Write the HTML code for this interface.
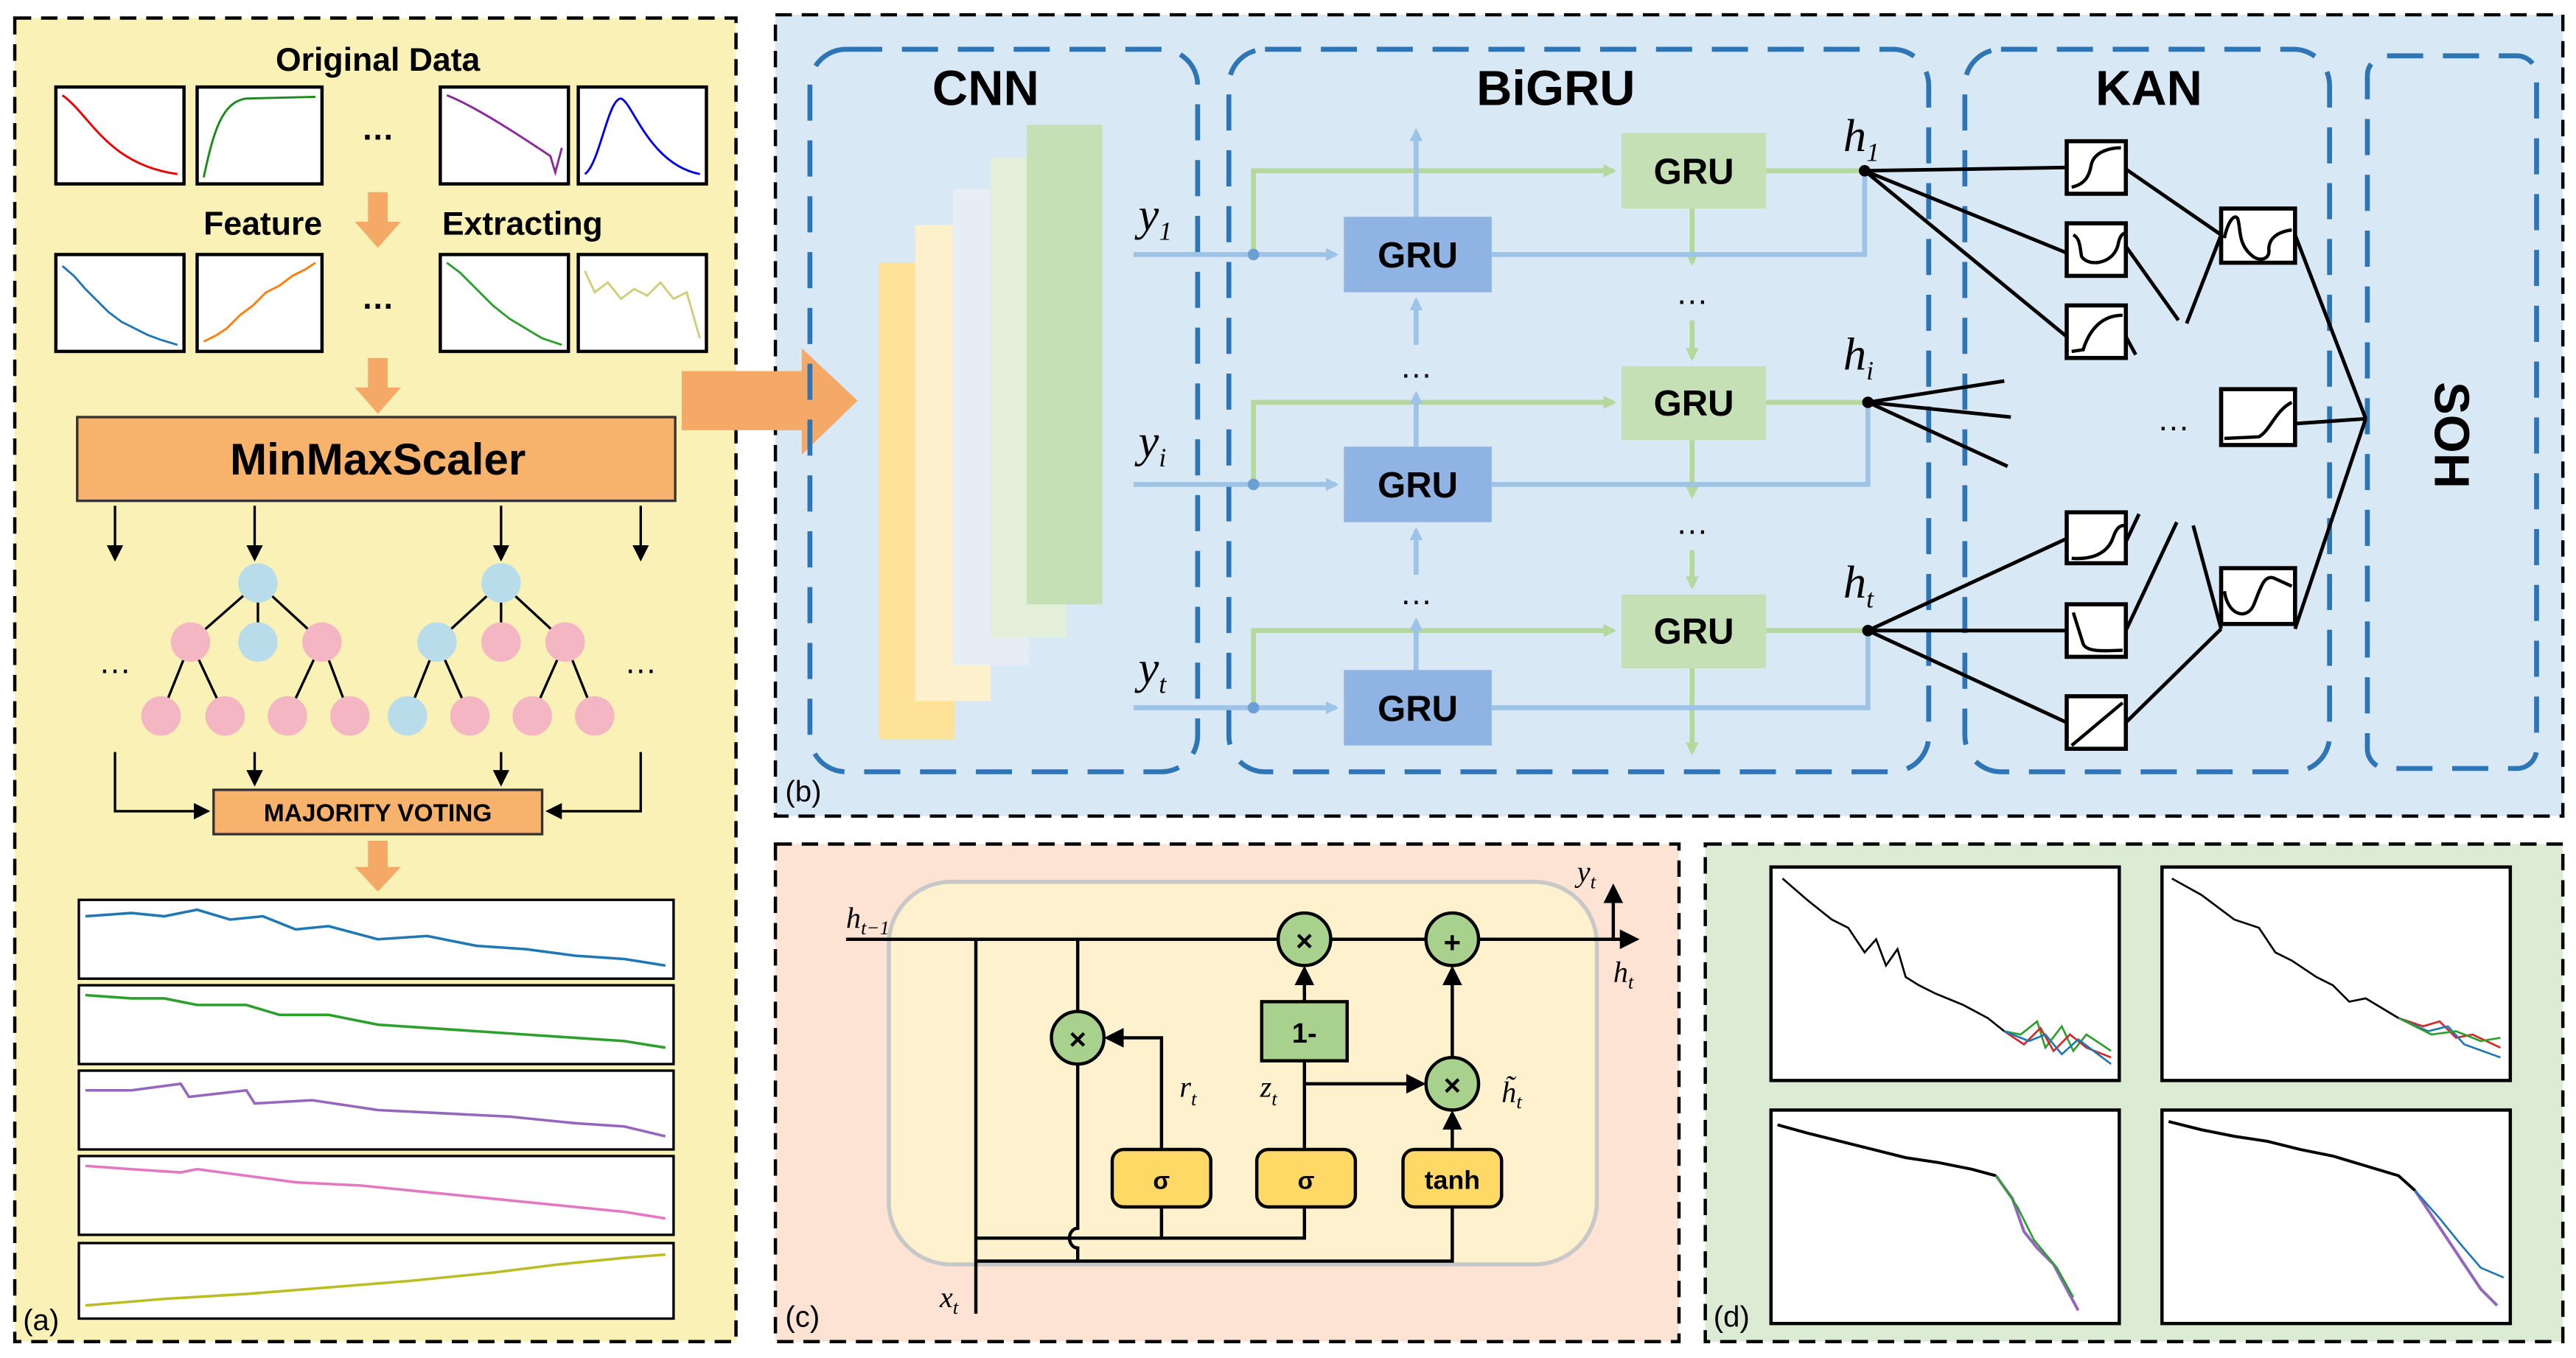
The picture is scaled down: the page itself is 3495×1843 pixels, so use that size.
<!DOCTYPE html>
<html><head><meta charset="utf-8"><style>
html,body{margin:0;padding:0;background:#fff}
svg{display:block}
text{font-family:"Liberation Sans",Arial,sans-serif}
.it{font-family:"Liberation Serif",serif;font-style:italic}
</style></head><body>
<svg width="3495" height="1843" viewBox="0 0 1568 827" preserveAspectRatio="none" xmlns="http://www.w3.org/2000/svg">
<defs>
<marker id="ab" markerWidth="8" markerHeight="8" refX="6" refY="4" orient="auto" markerUnits="userSpaceOnUse"><path d="M0,0 L8,4 L0,8 z" fill="#9dc3e6"/></marker>
<marker id="ag" markerWidth="8" markerHeight="8" refX="6" refY="4" orient="auto" markerUnits="userSpaceOnUse"><path d="M0,0 L8,4 L0,8 z" fill="#b5d99c"/></marker>
<marker id="ak" markerWidth="12" markerHeight="12" refX="10" refY="6" orient="auto" markerUnits="userSpaceOnUse"><path d="M0,0 L12,6 L0,12 z" fill="#000"/></marker>
<marker id="ak2" markerWidth="10" markerHeight="10" refX="8" refY="5" orient="auto" markerUnits="userSpaceOnUse"><path d="M0,0 L10,5 L0,10 z" fill="#000"/></marker>
</defs>
<rect width="1568" height="827" fill="#fff"/>
<!-- panel a -->
<rect x="9" y="11" width="439" height="806" fill="#faf1b6" stroke="#000" stroke-width="2" stroke-dasharray="10,6"/>
<text x="230" y="43" font-size="20" font-weight="bold" text-anchor="middle">Original Data</text>
<g fill="#fff" stroke="#000" stroke-width="2">
<rect x="34" y="53" width="78" height="59"/><rect x="120" y="53" width="76" height="59"/><rect x="268" y="53" width="78" height="59"/><rect x="352" y="53" width="78" height="59"/>
<rect x="34" y="155" width="78" height="59"/><rect x="120" y="155" width="76" height="59"/><rect x="268" y="155" width="78" height="59"/><rect x="352" y="155" width="78" height="59"/>
</g>
<g fill="none" stroke-width="1.3">
<path d="M38,58 C55,70 65,100 108,106" stroke="#e00"/>
<path d="M124,108 C130,80 135,62 150,60 L192,59" stroke="#1a8a1a"/>
<path d="M272,58 C290,65 320,85 335,95 L338,105 L342,90" stroke="#8a2a9a"/>
<path d="M356,106 C365,100 370,60 378,60 C385,62 395,100 426,106" stroke="#00e"/>
<polyline points="38,162 45,168 52,176 58,182 66,190 74,196 82,200 90,204 98,207 108,210" stroke="#1f77b4"/>
<polyline points="124,208 132,204 138,200 146,192 154,186 162,178 170,174 178,168 186,164 192,160" stroke="#ff7f0e"/>
<polyline points="272,160 280,166 290,176 300,186 310,194 320,200 330,206 342,210" stroke="#2ca02c"/>
<polyline points="356,165 362,178 370,172 378,182 386,176 394,180 402,172 410,182 418,178 426,206" stroke="#cfcf77"/>
</g>
<text x="230" y="85" font-size="20" font-weight="bold" text-anchor="middle">…</text>
<text x="230" y="188" font-size="20" font-weight="bold" text-anchor="middle">…</text>
<text x="160" y="143" font-size="20" font-weight="bold" text-anchor="middle">Feature</text>
<text x="318" y="143" font-size="20" font-weight="bold" text-anchor="middle">Extracting</text>
<g fill="#f4a966">
<path d="M224,117 h12 v18 h8 l-14,16 l-14,-16 h8z"/>
<path d="M224,218 h12 v18 h8 l-14,16 l-14,-16 h8z"/>
<path d="M224,512 h12 v16 h8 l-14,15 l-14,-15 h8z"/>
</g>
<rect x="47" y="254" width="364" height="51" fill="#f7b26b" stroke="#333" stroke-width="1.5"/>
<text x="230" y="289" font-size="27" font-weight="bold" text-anchor="middle">MinMaxScaler</text>
<g stroke="#000" stroke-width="1.5">
<line x1="70" y1="308" x2="70" y2="340" marker-end="url(#ak2)"/><line x1="155" y1="308" x2="155" y2="340" marker-end="url(#ak2)"/>
<line x1="305" y1="308" x2="305" y2="340" marker-end="url(#ak2)"/><line x1="390" y1="308" x2="390" y2="340" marker-end="url(#ak2)"/>
<path d="M157,355 L116,391 M157,355 L157,391 M157,355 L196,391 M116,391 L98,436 M116,391 L137,436 M196,391 L175,436 M196,391 L213,436"/>
<path d="M305,355 L266,391 M305,355 L305,391 M305,355 L344,391 M266,391 L248,436 M266,391 L286,436 M344,391 L324,436 M344,391 L362,436"/>
<path d="M70,458 V494 H126" fill="none" marker-end="url(#ak2)"/>
<path d="M390,458 V494 H334" fill="none" marker-end="url(#ak2)"/>
<line x1="155" y1="458" x2="155" y2="477" marker-end="url(#ak2)"/><line x1="305" y1="458" x2="305" y2="477" marker-end="url(#ak2)"/>
</g>
<g stroke="none">
<circle cx="157" cy="355" r="12" fill="#b9dcea"/>
<circle cx="116" cy="391" r="12" fill="#f4b6c2"/><circle cx="157" cy="391" r="12" fill="#b9dcea"/><circle cx="196" cy="391" r="12" fill="#f4b6c2"/>
<circle cx="98" cy="436" r="12" fill="#f4b6c2"/><circle cx="137" cy="436" r="12" fill="#f4b6c2"/><circle cx="175" cy="436" r="12" fill="#f4b6c2"/><circle cx="213" cy="436" r="12" fill="#f4b6c2"/>
<circle cx="305" cy="355" r="12" fill="#b9dcea"/>
<circle cx="266" cy="391" r="12" fill="#b9dcea"/><circle cx="305" cy="391" r="12" fill="#f4b6c2"/><circle cx="344" cy="391" r="12" fill="#f4b6c2"/>
<circle cx="248" cy="436" r="12" fill="#b9dcea"/><circle cx="286" cy="436" r="12" fill="#f4b6c2"/><circle cx="324" cy="436" r="12" fill="#f4b6c2"/><circle cx="362" cy="436" r="12" fill="#f4b6c2"/>
</g>
<text x="70" y="410" font-size="20" text-anchor="middle">…</text><text x="390" y="410" font-size="20" text-anchor="middle">…</text>
<rect x="130" y="481" width="200" height="27" fill="#f7b26b" stroke="#333" stroke-width="1.5"/>
<text x="230" y="500" font-size="15" font-weight="bold" text-anchor="middle">MAJORITY VOTING</text>
<g fill="#fff" stroke="#000" stroke-width="1.5">
<rect x="48" y="548" width="362" height="48"/><rect x="48" y="600" width="362" height="48"/><rect x="48" y="652" width="362" height="48"/><rect x="48" y="704" width="362" height="48"/><rect x="48" y="757" width="362" height="46"/>
</g>
<g fill="none" stroke-width="1.6">
<polyline points="52,558 80,556 100,558 120,554 140,560 160,558 180,566 200,564 230,572 260,570 290,576 320,578 350,582 380,584 405,588" stroke="#1f77b4"/>
<polyline points="52,606 80,608 100,608 120,612 150,612 170,618 200,618 230,624 260,626 290,628 320,630 350,632 380,634 405,638" stroke="#2ca02c"/>
<polyline points="52,664 80,664 110,660 115,668 150,664 155,672 190,670 230,676 270,678 310,680 350,684 380,686 405,692" stroke="#9467bd"/>
<polyline points="52,710 80,712 110,714 120,712 150,716 180,720 220,722 260,726 300,730 340,734 380,738 405,742" stroke="#e377c2"/>
<polyline points="52,795 100,791 150,788 200,784 250,780 300,775 340,770 380,766 405,764" stroke="#bcbd22"/>
</g>
<text x="14" y="810" font-size="18">(a)</text>
<!-- panel b -->
<rect x="472" y="9" width="1088" height="488" fill="#d9e8f5" stroke="#000" stroke-width="2" stroke-dasharray="10,6"/>
<!-- big arrow -->
<path d="M415,226 H488 V212 L522,244 L488,277 V262 H415z" fill="#f4a966"/>
<g fill="none" stroke="#2e75b6" stroke-width="3" stroke-dasharray="22,12">
<rect x="493" y="30" width="236" height="440" rx="22"/>
<rect x="748" y="30" width="426" height="440" rx="22"/>
<rect x="1196" y="30" width="222" height="440" rx="22"/>
<rect x="1441" y="34" width="103" height="434" rx="12"/>
</g>
<text x="600" y="64" font-size="30" font-weight="bold" text-anchor="middle">CNN</text>
<text x="947" y="64" font-size="30" font-weight="bold" text-anchor="middle">BiGRU</text>
<text x="1308" y="64" font-size="30" font-weight="bold" text-anchor="middle">KAN</text>
<text transform="translate(1482,265) rotate(90)" font-size="30" font-weight="bold" text-anchor="middle">SOH</text>
<rect x="535" y="160" width="46" height="290" fill="#fee297"/>
<rect x="557" y="137" width="46" height="290" fill="#fdf0cc"/>
<rect x="580" y="115" width="46" height="290" fill="#e7edf4"/>
<rect x="603" y="96" width="46" height="292" fill="#e3efd8"/>
<rect x="625" y="76" width="46" height="292" fill="#c5e0b4"/>
<g fill="none" stroke="#b5d99c" stroke-width="3">
<path d="M763,155 V104 H982" marker-end="url(#ag)"/><path d="M763,295 V245 H982" marker-end="url(#ag)"/><path d="M763,431 V384 H982" marker-end="url(#ag)"/>
<path d="M1075,104 H1135 M1075,245 H1137 M1075,384 H1137"/>
<line x1="1030" y1="127" x2="1030" y2="160" marker-end="url(#ag)"/><line x1="1030" y1="195" x2="1030" y2="218" marker-end="url(#ag)"/>
<line x1="1030" y1="268" x2="1030" y2="302" marker-end="url(#ag)"/><line x1="1030" y1="335" x2="1030" y2="357" marker-end="url(#ag)"/>
<line x1="1030" y1="407" x2="1030" y2="458" marker-end="url(#ag)"/>
</g>
<g fill="none" stroke="#9dc3e6" stroke-width="3">
<line x1="690" y1="155" x2="813" y2="155" marker-end="url(#ab)"/><line x1="690" y1="295" x2="813" y2="295" marker-end="url(#ab)"/><line x1="690" y1="431" x2="813" y2="431" marker-end="url(#ab)"/>
<path d="M908,155 H1135 V104 M908,295 H1137 V245 M908,431 H1137 V384"/>
<line x1="862" y1="132" x2="862" y2="80" marker-end="url(#ab)"/>
<line x1="862" y1="272" x2="862" y2="240" marker-end="url(#ab)"/><line x1="862" y1="210" x2="862" y2="183" marker-end="url(#ab)"/>
<line x1="862" y1="408" x2="862" y2="378" marker-end="url(#ab)"/><line x1="862" y1="350" x2="862" y2="323" marker-end="url(#ab)"/>
</g>
<circle cx="763" cy="155" r="3.5" fill="#6a9fd6"/><circle cx="763" cy="295" r="3.5" fill="#6a9fd6"/><circle cx="763" cy="431" r="3.5" fill="#6a9fd6"/>
<g fill="#8fb4e3"><rect x="818" y="132" width="90" height="46"/><rect x="818" y="272" width="90" height="46"/><rect x="818" y="408" width="90" height="46"/></g>
<g fill="#c5e0b4"><rect x="987" y="81" width="88" height="46"/><rect x="987" y="223" width="88" height="45"/><rect x="987" y="362" width="88" height="45"/></g>
<g font-size="22" font-weight="bold" text-anchor="middle">
<text x="863" y="163">GRU</text><text x="863" y="303">GRU</text><text x="863" y="439">GRU</text>
<text x="1031" y="112">GRU</text><text x="1031" y="253">GRU</text><text x="1031" y="392">GRU</text>
</g>
<g font-size="20" text-anchor="middle"><text x="862" y="230">…</text><text x="862" y="368">…</text><text x="1030" y="185">…</text><text x="1030" y="325">…</text><text x="1323" y="262">…</text></g>
<g class="it" font-size="28"><text x="693" y="140" class="it">y<tspan font-size="16" dy="6">1</tspan></text><text x="693" y="278" class="it">y<tspan font-size="16" dy="6">i</tspan></text><text x="693" y="416" class="it">y<tspan font-size="16" dy="6">t</tspan></text>
<text x="1122" y="92" class="it">h<tspan font-size="16" dy="6">1</tspan></text><text x="1122" y="225" class="it">h<tspan font-size="16" dy="6">i</tspan></text><text x="1122" y="364" class="it">h<tspan font-size="16" dy="6">t</tspan></text></g>
<g stroke="#000" stroke-width="2.2" fill="none">
<path d="M1135,104 L1258,102 M1135,104 L1258,154 M1135,104 L1258,205"/>
<path d="M1137,245 L1220,232 M1137,245 L1224,254 M1137,245 L1222,284"/>
<path d="M1137,384 L1258,328 M1137,384 L1258,384 M1137,384 L1258,440"/>
<path d="M1294,103 L1352,143 M1294,150 L1326,195 M1294,205 L1300,216 M1352,143 L1331,197"/>
<path d="M1294,330 L1302,313 M1294,384 L1325,318 M1294,440 L1352,383 M1352,383 L1335,320"/>
<path d="M1397,143 L1440,255 M1397,258 L1440,255 M1397,383 L1440,255"/>
</g>
<circle cx="1135" cy="104" r="3.5"/><circle cx="1137" cy="245" r="3.5"/><circle cx="1137" cy="384" r="3.5"/>
<g fill="#fff" stroke="#000" stroke-width="2.5">
<rect x="1258" y="86" width="36" height="32"/><rect x="1258" y="136" width="36" height="32"/><rect x="1258" y="186" width="36" height="32"/>
<rect x="1258" y="312" width="36" height="31"/><rect x="1258" y="368" width="36" height="32"/><rect x="1258" y="424" width="36" height="32"/>
<rect x="1352" y="127" width="45" height="33"/><rect x="1352" y="237" width="45" height="34"/><rect x="1352" y="346" width="45" height="34"/>
</g>
<g fill="none" stroke="#000" stroke-width="2">
<path d="M1261,114 C1270,112 1272,106 1273,100 C1275,92 1285,90 1291,90"/>
<path d="M1262,143 C1266,145 1266,150 1267,156 C1270,162 1285,162 1289,150 C1290,145 1291,143 1293,142"/>
<path d="M1261,214 L1268,213 C1272,200 1280,192 1292,192"/>
<path d="M1261,340 C1275,341 1283,336 1286,328 C1288,322 1290,320 1293,320"/>
<path d="M1262,373 L1268,392 C1270,398 1285,396 1292,396"/>
<path d="M1261,454 L1292,428"/>
<path d="M1354,145 C1356,135 1360,130 1362,133 C1364,138 1362,148 1370,155 C1375,160 1382,158 1381,152 C1381,144 1388,141 1395,140"/>
<path d="M1354,267 L1375,266 C1382,262 1385,250 1395,245"/>
<path d="M1354,360 C1356,375 1368,378 1372,368 C1376,358 1378,350 1384,352 L1395,357"/>
</g>
<text x="478" y="488" font-size="18">(b)</text>
<!-- panel c -->
<rect x="472" y="514" width="550" height="303" fill="#fde3d4" stroke="#000" stroke-width="2" stroke-dasharray="10,6"/>
<rect x="541" y="537" width="431" height="233" rx="38" fill="#fef1cd" stroke="#c8c8c8" stroke-width="2.5"/>
<g stroke="#000" stroke-width="2" fill="none">
<line x1="515" y1="572" x2="996" y2="572" marker-end="url(#ak)"/>
<line x1="982" y1="572" x2="982" y2="540" marker-end="url(#ak)"/>
<path d="M594,572 V800"/>
<path d="M656,572 V616 M656,648 V748 A5,6 0 0 0 656,760 V768"/>
<path d="M594,754 H794 V735 M707,754 V735"/>
<path d="M594,768 H884 V735"/>
<path d="M707,700 V632 H674" marker-end="url(#ak)"/>
<path d="M794,700 V646 M794,610 V590" marker-end="url(#ak)"/>
<path d="M794,660 H866" marker-end="url(#ak)"/>
<path d="M884,700 V678" marker-end="url(#ak)"/>
<path d="M884,644 V590" marker-end="url(#ak)"/>
</g>
<g fill="#a9d18e" stroke="#000" stroke-width="2">
<circle cx="656" cy="632" r="16"/><circle cx="794" cy="572" r="16"/><circle cx="884" cy="572" r="16"/><circle cx="884" cy="660" r="16"/>
<rect x="768" y="610" width="52" height="36"/>
</g>
<g fill="#ffd966" stroke="#000" stroke-width="2"><rect x="677" y="700" width="60" height="35" rx="7"/><rect x="765" y="700" width="60" height="35" rx="7"/><rect x="854" y="700" width="60" height="35" rx="7"/></g>
<g font-size="18" font-weight="bold" text-anchor="middle">
<text x="656" y="639">×</text><text x="794" y="579">×</text><text x="884" y="580">+</text><text x="884" y="667">×</text>
<text x="794" y="635" font-size="17">1-</text><text x="707" y="724" font-size="15">σ</text><text x="795" y="724" font-size="15">σ</text><text x="884" y="724" font-size="16">tanh</text>
</g>
<g class="it" font-size="18">
<text x="515" y="565" class="it">h<tspan font-size="12" dy="4">t−1</tspan></text>
<text x="718" y="668" class="it">r<tspan font-size="12" dy="5">t</tspan></text>
<text x="767" y="668" class="it">z<tspan font-size="12" dy="5">t</tspan></text>
<text x="914" y="671" class="it">h̃<tspan font-size="12" dy="4">t</tspan></text>
<text x="960" y="537" class="it">y<tspan font-size="12" dy="4">t</tspan></text>
<text x="982" y="598" class="it">h<tspan font-size="12" dy="4">t</tspan></text>
<text x="572" y="796" class="it">x<tspan font-size="12" dy="4">t</tspan></text>
</g>
<text x="478" y="808" font-size="18">(c)</text>
<!-- panel d -->
<rect x="1038" y="514" width="522" height="303" fill="#dcebd4" stroke="#000" stroke-width="2" stroke-dasharray="10,6"/>
<g fill="#fff" stroke="#000" stroke-width="2">
<rect x="1078" y="528" width="212" height="130"/><rect x="1316" y="528" width="212" height="130"/>
<rect x="1078" y="676" width="212" height="130"/><rect x="1316" y="676" width="212" height="130"/>
</g>
<g fill="none" stroke-width="1.2">
<polyline points="1085,535 1100,548 1115,560 1125,565 1135,580 1142,572 1148,588 1155,578 1160,595 1168,600 1178,605 1195,612 1210,620 1220,628" stroke="#000"/>
<polyline points="1220,628 1230,630 1240,622 1245,638 1255,625 1262,640 1270,630 1285,640" stroke="#2ca02c"/>
<polyline points="1220,628 1232,636 1242,626 1250,640 1260,630 1270,638 1285,644" stroke="#d62728"/>
<polyline points="1220,628 1235,634 1245,630 1255,642 1265,633 1285,648" stroke="#1f77b4"/>
<polyline points="1322,535 1340,545 1360,560 1375,565 1385,580 1395,585 1410,595 1420,600 1430,610 1440,608 1460,620" stroke="#000"/>
<polyline points="1460,620 1475,625 1485,622 1495,632 1505,630 1522,638" stroke="#d62728"/>
<polyline points="1460,620 1478,628 1490,625 1500,636 1522,644" stroke="#1f77b4"/>
<polyline points="1460,620 1480,630 1495,628 1510,634 1522,632" stroke="#2ca02c"/>
<polyline points="1082,685 1100,690 1120,695 1140,700 1160,705 1180,708 1200,712 1215,716" stroke="#000" stroke-width="1.8"/>
<polyline points="1215,716 1225,730 1232,750 1240,760 1250,770 1258,785 1265,798" stroke="#9467bd" stroke-width="1.8"/>
<polyline points="1215,716 1228,735 1238,755 1252,772 1262,790" stroke="#2ca02c"/>
<polyline points="1320,683 1340,688 1360,692 1380,695 1400,700 1420,704 1440,710 1460,716 1470,725" stroke="#000" stroke-width="1.8"/>
<polyline points="1470,725 1480,740 1490,755 1500,770 1510,785 1520,795" stroke="#9467bd" stroke-width="1.8"/>
<polyline points="1470,725 1485,742 1498,758 1510,772 1524,778" stroke="#1f77b4"/>
</g>
<text x="1043" y="808" font-size="18">(d)</text>
</svg>
</body></html>
